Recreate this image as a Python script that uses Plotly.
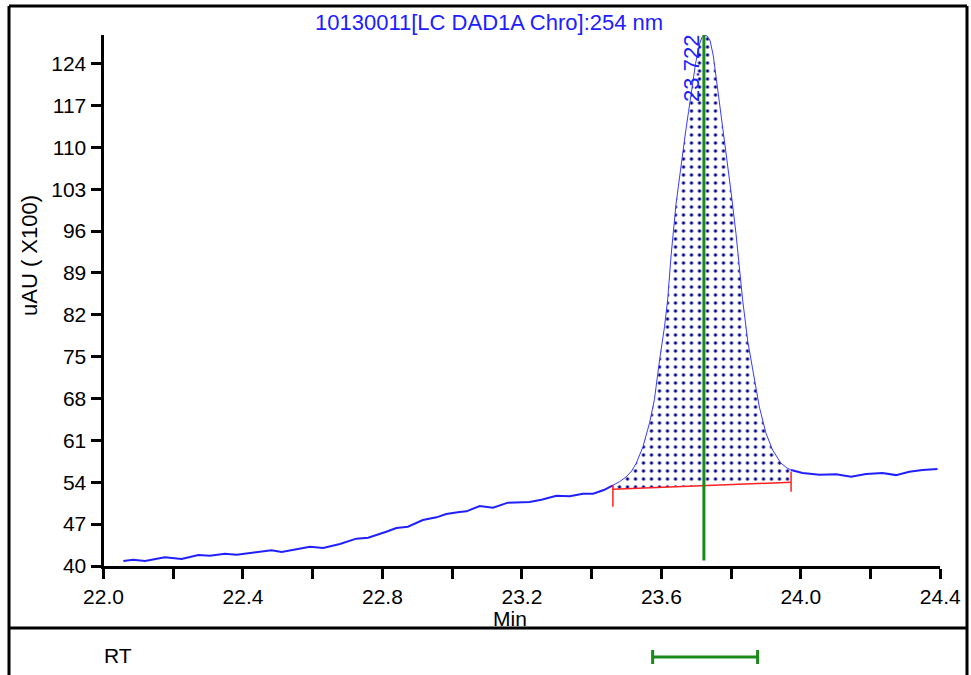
import plotly.graph_objects as go

# ---------------- data ----------------
# baseline before the peak (min, uAU x100)
pre_t = [22.057, 22.085, 22.119, 22.150, 22.176, 22.224, 22.272, 22.305, 22.348, 22.382,
         22.439, 22.482, 22.511, 22.544, 22.592, 22.630, 22.678, 22.725, 22.759, 22.811,
         22.840, 22.873, 22.916, 22.955, 22.983, 23.021, 23.041, 23.079, 23.117, 23.160,
         23.222, 23.256, 23.299, 23.337, 23.375, 23.404, 23.435, 23.461]
pre_v = [40.84, 41.05, 40.84, 41.15, 41.45, 41.17, 41.84, 41.73, 42.06, 41.90,
         42.34, 42.62, 42.34, 42.73, 43.23, 43.00, 43.68, 44.57, 44.74, 45.74,
         46.35, 46.57, 47.69, 48.14, 48.70, 49.03, 49.14, 50.03, 49.75, 50.59,
         50.70, 51.09, 51.76, 51.65, 52.09, 52.09, 52.70, 53.50]

# peak
peak_t = [23.461, 23.480, 23.499, 23.515, 23.528, 23.547, 23.566, 23.580, 23.595, 23.609,
          23.618, 23.628, 23.642, 23.657, 23.668, 23.678, 23.688, 23.698, 23.708, 23.716,
          23.724, 23.732, 23.740, 23.749, 23.758, 23.771, 23.786, 23.800, 23.814, 23.825,
          23.833, 23.848, 23.867, 23.881, 23.900, 23.919, 23.943, 23.960, 23.972]
peak_v = [53.5, 54.1, 54.9, 55.9, 57.2, 59.9, 63.9, 67.8, 74.5, 80.0,
          84.5, 92.0, 100.5, 107.5, 112.0, 116.0, 120.0, 124.0, 127.0, 128.4,
          128.8, 128.6, 127.8, 125.3, 121.3, 115.7, 109.3, 102.5, 95.6, 89.5,
          84.5, 77.5, 71.0, 66.6, 62.2, 59.4, 57.2, 56.4, 56.05]

# baseline after the peak
post_t = [23.972, 24.005, 24.053, 24.101, 24.144, 24.187, 24.234, 24.273, 24.311, 24.349, 24.392]
post_v = [56.05, 55.55, 55.27, 55.33, 54.93, 55.38, 55.55, 55.20, 55.77, 56.05, 56.22]

# integration
peak_rt = 23.722
peak_label = "23.722"
base_t = [23.461, 23.972]          # integration start / end
base_v = [52.83, 54.00]            # baseline values at start / end
start_mark_v = [53.5, 49.9]        # red start marker extent
end_mark_v = [55.8, 52.4]          # red end marker extent
rt_line_v = [40.9, 128.8]          # green retention-time line extent
rt_window = [23.575, 23.876]       # RT window in lower panel

x_ticks = [22.0, 22.2, 22.4, 22.6, 22.8, 23.0, 23.2, 23.4, 23.6, 23.8, 24.0, 24.2, 24.4]
x_ticktext = ["22.0", "", "22.4", "", "22.8", "", "23.2", "", "23.6", "", "24.0", "", "24.4"]
y_ticks = [40, 47, 54, 61, 68, 75, 82, 89, 96, 103, 110, 117, 124]

title_text = "10130011[LC DAD1A Chro]:254 nm"
y_title = "uAU ( X100)"
x_title = "Min"
panel_label = "RT"

# ---------------- figure ----------------
W, H = 971, 675
FONT = "Liberation Sans"
BLUE = "#2020ff"
GREEN = "#1a8a1a"


def px(x):
    return x / W


def py(y):
    return 1 - y / H


fig = go.Figure()

# dotted peak area
poly_t = peak_t + base_t[::-1]
poly_v = peak_v + base_v[::-1]
fig.add_trace(go.Scatter(
    x=poly_t, y=poly_v, mode="lines", fill="toself",
    line=dict(width=0, color="rgba(0,0,0,0)"),
    fillcolor="white",
    fillpattern=dict(shape=".", fgcolor="#00008b", bgcolor="white", fgopacity=1,
                     size=8, solidity=0.13),
    hoverinfo="skip", showlegend=False))

# chromatogram
fig.add_trace(go.Scatter(x=pre_t, y=pre_v, mode="lines",
                         line=dict(color=BLUE, width=2), showlegend=False))
fig.add_trace(go.Scatter(x=peak_t, y=peak_v, mode="lines",
                         line=dict(color="#3a3aff", width=1), showlegend=False))
fig.add_trace(go.Scatter(x=post_t, y=post_v, mode="lines",
                         line=dict(color=BLUE, width=2), showlegend=False))

# baseline and markers
fig.add_trace(go.Scatter(x=base_t, y=base_v, mode="lines",
                         line=dict(color="#ff2020", width=1.5), showlegend=False))
fig.add_trace(go.Scatter(x=[base_t[0], base_t[0]], y=start_mark_v, mode="lines",
                         line=dict(color="#ff2020", width=1.5), showlegend=False))
fig.add_trace(go.Scatter(x=[base_t[1], base_t[1]], y=end_mark_v, mode="lines",
                         line=dict(color="#ff2020", width=1.5), showlegend=False))

# retention time line
fig.add_trace(go.Scatter(x=[peak_rt, peak_rt], y=rt_line_v, mode="lines",
                         line=dict(color=GREEN, width=3), showlegend=False))

# RT window in lower panel
fig.add_trace(go.Scatter(
    x=[peak_rt], y=[0.5], mode="markers", marker=dict(size=1, opacity=0),
    error_x=dict(type="data", symmetric=False,
                 array=[rt_window[1] - peak_rt], arrayminus=[peak_rt - rt_window[0]],
                 color=GREEN, thickness=3, width=7),
    xaxis="x2", yaxis="y2", showlegend=False))

x_dom = [px(103.5), px(940.3)]
fig.update_layout(
    width=W, height=H,
    margin=dict(l=0, r=0, t=0, b=0, pad=0, autoexpand=False),
    paper_bgcolor="white", plot_bgcolor="white",
    font=dict(family=FONT, size=21, color="black"),
    showlegend=False,
    xaxis=dict(domain=x_dom, range=[22.0, 24.4], showgrid=False, zeroline=False,
               automargin=False,
               showline=True, linewidth=3, linecolor="black",
               ticks="outside", ticklen=10, tickwidth=2.5, tickcolor="black",
               tickvals=x_ticks, ticktext=x_ticktext, anchor="y",
               tickfont=dict(family=FONT, size=21, color="black")),
    yaxis=dict(domain=[py(566), py(35)], range=[40, 128.8], showgrid=False, zeroline=False,
               automargin=False,
               showline=True, linewidth=3, linecolor="black",
               ticks="outside", ticklen=10, tickwidth=2.5, tickcolor="black",
               tickvals=y_ticks, anchor="x",
               tickfont=dict(family=FONT, size=21, color="black")),
    xaxis2=dict(domain=x_dom, range=[22.0, 24.4], visible=False, anchor="y2", automargin=False),
    yaxis2=dict(domain=[0, py(657) * 2], range=[0, 1], visible=False, anchor="x2", automargin=False),
)

# frame
fig.add_shape(type="line", xref="paper", yref="paper", x0=px(9), x1=px(9), y0=py(6), y1=py(680),
              line=dict(color="black", width=3))
fig.add_shape(type="line", xref="paper", yref="paper", x0=px(967), x1=px(967), y0=py(6), y1=py(680),
              line=dict(color="black", width=3))
fig.add_shape(type="line", xref="paper", yref="paper", x0=px(9), x1=px(967), y0=py(6), y1=py(6),
              line=dict(color="black", width=3))
fig.add_shape(type="line", xref="paper", yref="paper", x0=px(9), x1=px(967), y0=py(628), y1=py(628),
              line=dict(color="black", width=3))

# texts
fig.add_annotation(text=title_text, xref="paper", yref="paper", x=px(489), y=py(22),
                   showarrow=False, font=dict(family=FONT, size=22, color=BLUE),
                   xanchor="center", yanchor="middle")
fig.add_annotation(text=y_title, xref="paper", yref="paper", x=px(30), y=py(256),
                   showarrow=False, textangle=-90, font=dict(family=FONT, size=22, color="black"),
                   xanchor="center", yanchor="middle")
fig.add_annotation(text=x_title, xref="paper", yref="paper", x=px(510), y=py(618),
                   showarrow=False, font=dict(family=FONT, size=21, color="black"),
                   xanchor="center", yanchor="middle")
fig.add_annotation(text=panel_label, xref="paper", yref="paper", x=px(118), y=py(655),
                   showarrow=False, font=dict(family=FONT, size=21, color="black"),
                   xanchor="center", yanchor="middle")
fig.add_annotation(text=peak_label, xref="x", yref="paper", x=peak_rt, xshift=-13, y=py(68),
                   showarrow=False, textangle=-90, font=dict(family=FONT, size=22, color=BLUE),
                   xanchor="center", yanchor="middle")

fig.write_html("out.html")
